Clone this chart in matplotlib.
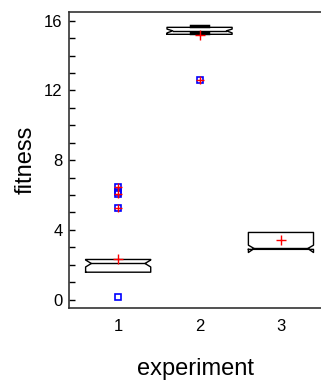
import numpy as np
import matplotlib
matplotlib.use("Agg")
import matplotlib.pyplot as plt

plt.rcParams['font.family'] = ['Liberation Sans', 'DejaVu Sans']

# box statistics per experiment
experiments = [1, 2, 3]
q1 = [1.57, 15.22, 2.88]
med = [2.07, 15.42, 2.93]
q3 = [2.30, 15.62, 3.85]
notch_lo = [1.87, 15.30, 2.70]
notch_hi = [2.27, 15.52, 3.12]
whis_lo = [1.57, 15.28, 2.88]
whis_hi = [2.30, 15.68, 3.85]
means = [2.30, 15.20, 3.40]

# individual points drawn as blue squares, outliers flagged with red +
points_x = [1, 1, 1, 1, 1, 2]
points_y = [6.43, 6.18, 6.03, 5.28, 0.15, 12.60]
outliers_x = [1, 1, 1, 2]
outliers_y = [6.43, 6.08, 5.28, 12.60]

fig = plt.figure(figsize=(3.21, 3.82), dpi=100)
ax = fig.add_axes([0.216, 0.193, 0.786, 0.7756])

half = 0.40
indent = 0.07
for i, x in enumerate(experiments):
    l, r = x - half, x + half
    xs = [l, r, r, r - indent, r, r, l, l, l + indent, l, l]
    ys = [q1[i], q1[i], notch_lo[i], med[i], notch_hi[i], q3[i], q3[i],
          notch_hi[i], med[i], notch_lo[i], q1[i]]
    ax.plot(xs, ys, color='black', lw=1.0)
    ax.plot([l + indent, r - indent], [med[i], med[i]], color='black', lw=1.0)
    if whis_hi[i] != q3[i]:
        ax.plot([x - 0.1, x + 0.1], [whis_hi[i], whis_hi[i]], color='black', lw=2.5)
    if whis_lo[i] != q1[i]:
        ax.plot([x - 0.1, x + 0.1], [whis_lo[i], whis_lo[i]], color='black', lw=2.5)

ax.plot(points_x, points_y, 's', mfc='none', mec='blue', ms=5, mew=1.2)
ax.plot(outliers_x, outliers_y, '+', color='red', ms=6, mew=1.0)
ax.plot(experiments, means, '+', color='red', ms=6.5, mew=1.0)

ax.set_xlim(0.4, 3.5)
ax.set_ylim(-0.5, 16.5)
ax.set_xticks(experiments)
ax.set_yticks([0, 4, 8, 12, 16])
ax.set_yticks(np.arange(0, 17, 1), minor=True)
ax.tick_params(axis='y', which='both', direction='in', length=4, width=1,
               labelsize=12, pad=5)
ax.tick_params(axis='x', length=0, labelsize=12, pad=8)
ax.spines['right'].set_visible(False)
for s in ['left', 'top', 'bottom']:
    ax.spines[s].set_linewidth(1.2)
    ax.spines[s].set_color('#333333')

ax.set_xlabel('experiment', fontsize=17, labelpad=17)
ax.set_ylabel('fitness', fontsize=17, labelpad=5)

fig.savefig('out.png', dpi=100)
